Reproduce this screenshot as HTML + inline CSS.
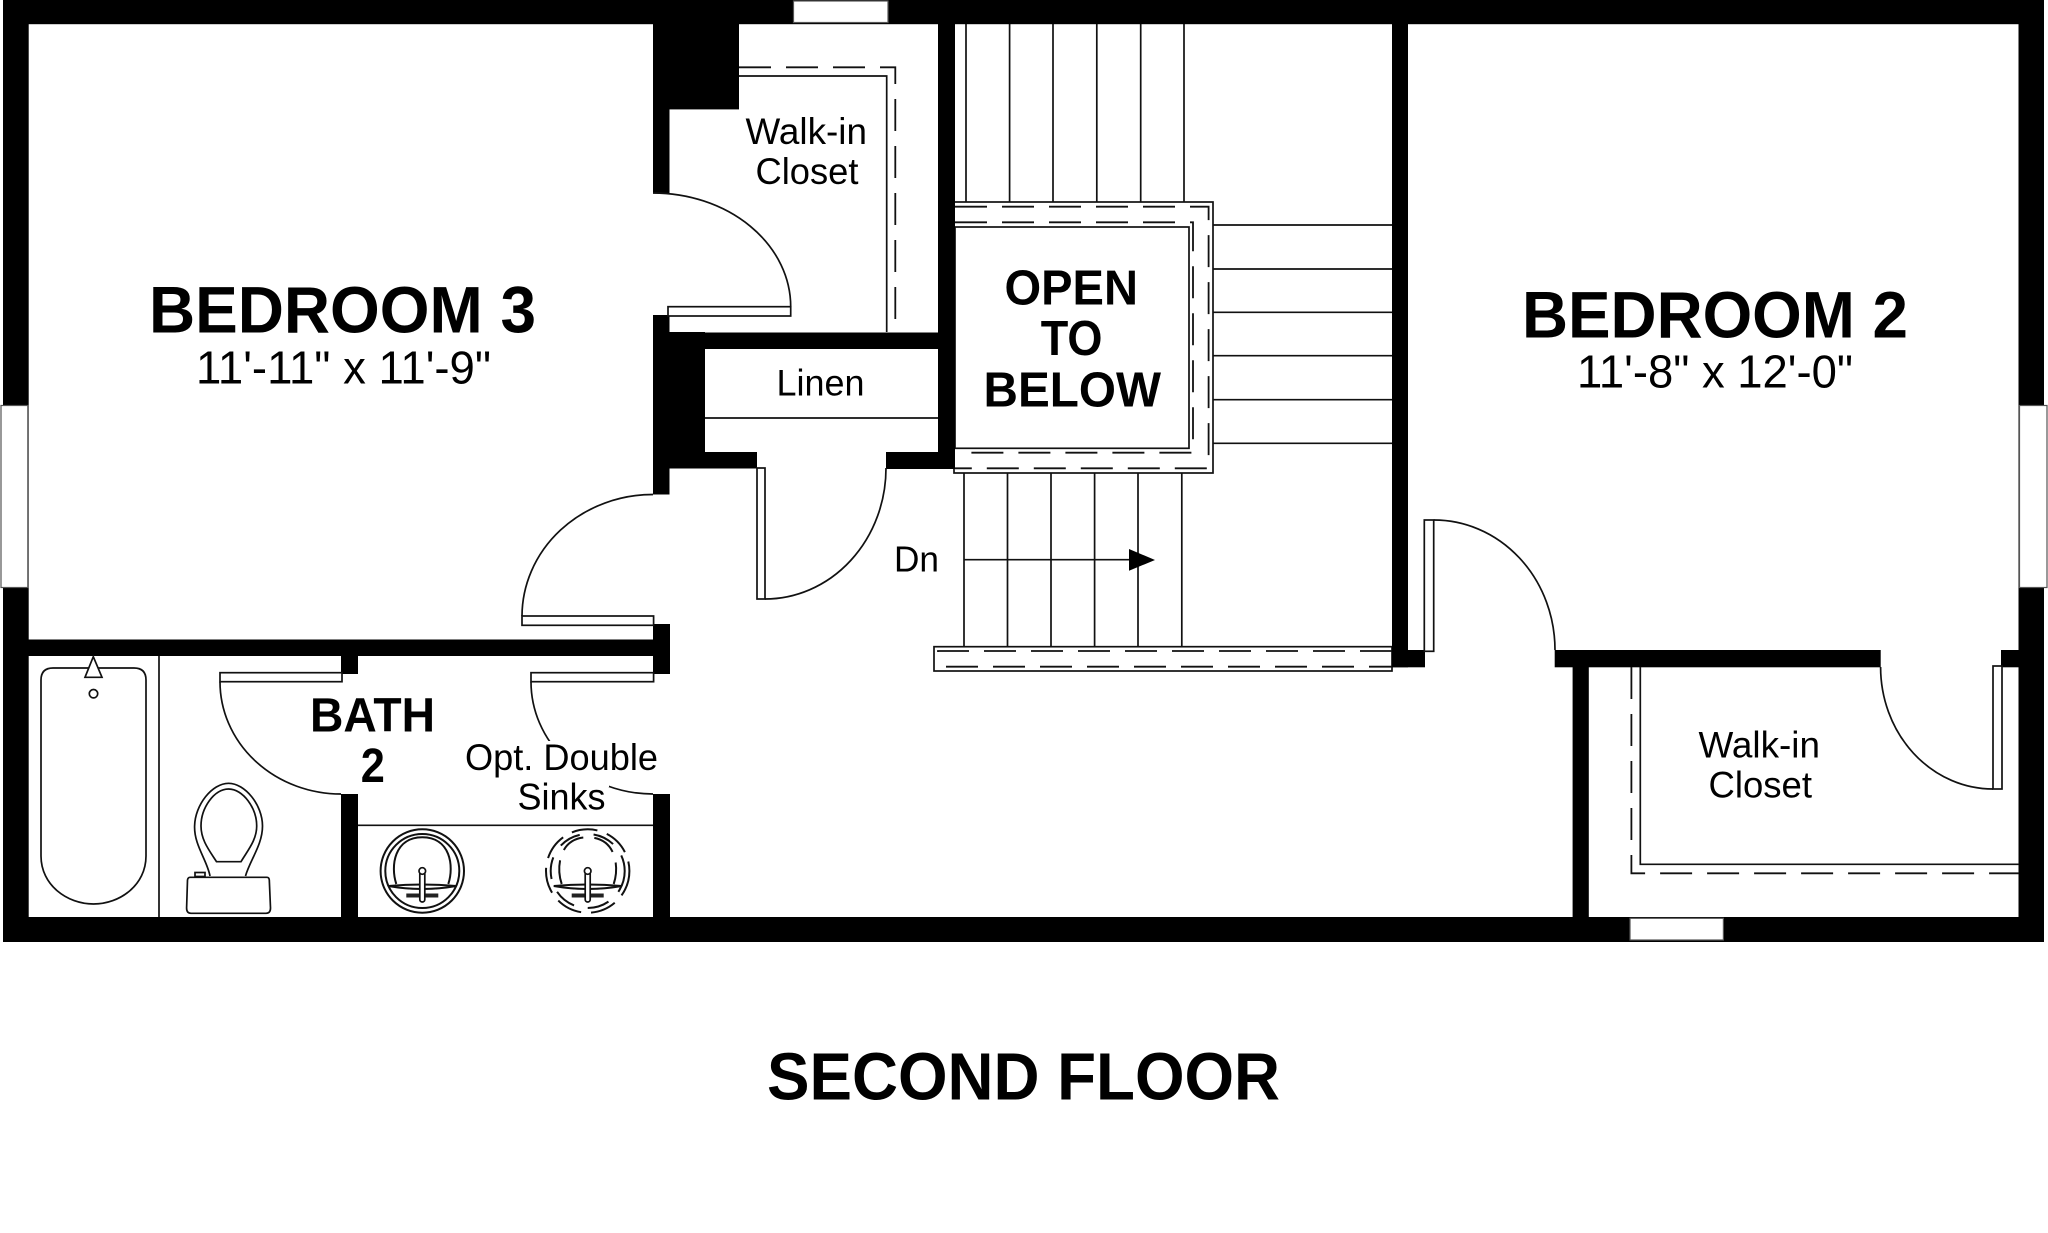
<!DOCTYPE html>
<html><head><meta charset="utf-8"><title>Second Floor</title>
<style>html,body{margin:0;padding:0;background:#fff}svg{display:block}
text{font-family:"Liberation Sans",sans-serif;fill:#000;text-anchor:start}
.b{font-weight:bold}
.l{fill:none;stroke:#111;stroke-width:1.7}
.w{fill:#fff;stroke:#111;stroke-width:1.7}
.d{fill:none;stroke:#111;stroke-width:1.8;stroke-dasharray:32 15}
.s{stroke-width:2}
</style></head><body>
<svg xmlns="http://www.w3.org/2000/svg" width="2048" height="1233" viewBox="0 0 2048 1233">
<rect width="2048" height="1233" fill="#fff"/>

<!-- stairs -->
<path class="l" d="M966,24V202M1009.6,24V202M1053,24V202M1096.8,24V202M1140.7,24V202M1184,24V202"/>
<path class="l" d="M1213,225H1392M1213,269H1392M1213,312.3H1392M1213,355.7H1392M1213,399.7H1392M1213,443.3H1392"/>
<path class="l" d="M964,473V647M1007.5,473V647M1051,473V647M1094.6,473V647M1138,473V647M1181.8,473V647"/>
<path class="l" d="M964,559.7H1130"/>
<path d="M1129,549L1155,560L1129,570.7Z" fill="#000"/>

<!-- open to below frame -->
<rect class="l" x="954" y="202" width="259" height="271"/>
<rect class="l" x="955" y="227" width="234" height="221.3"/>
<path class="d" d="M955,206.7H1208.6V468.3H955"/>
<path class="d" d="M955,222.3H1193V452.7H962"/>

<!-- landing -->
<rect class="l" x="934" y="646.7" width="458" height="24.3"/>
<path class="d" d="M1392,651H938V660"/>
<path class="d" d="M946,666.7H1392"/>

<!-- walls -->
<g fill="#000">
<rect x="3" y="0" width="2041" height="24.2"/>
<rect x="3" y="0" width="25.7" height="942"/>
<rect x="2018.5" y="0" width="25.5" height="942"/>
<rect x="3" y="917" width="2041" height="25"/>
<rect x="653" y="24" width="86" height="85.4"/>
<rect x="653" y="24" width="16.5" height="169"/>
<rect x="653" y="315" width="16.5" height="179.5"/>
<rect x="653" y="332" width="52" height="136"/>
<rect x="653" y="332.5" width="302" height="16.5"/>
<rect x="653" y="452" width="104" height="16.5"/>
<rect x="886" y="452" width="69" height="17"/>
<rect x="938" y="0" width="17" height="469"/>
<rect x="3" y="639.5" width="667" height="16.5"/>
<rect x="653" y="624" width="17" height="50"/>
<rect x="341" y="650" width="17" height="24"/>
<rect x="341" y="794" width="17" height="130"/>
<rect x="653" y="794" width="17" height="130"/>
<rect x="1392" y="0" width="16" height="667.3"/>
<rect x="1392" y="650" width="33" height="17.3"/>
<rect x="1554.7" y="650" width="326" height="17.3"/>
<rect x="1572.6" y="650" width="16.2" height="270"/>
<rect x="2001" y="650" width="20" height="17.3"/>
</g>

<!-- windows -->
<g fill="#fff" stroke="#555" stroke-width="1.2">
<rect x="1" y="405.5" width="26.8" height="182"/>
<rect x="793.5" y="1" width="94.5" height="21.5"/>
<rect x="2019.5" y="405.5" width="27.5" height="182"/>
<rect x="1630" y="918.3" width="93.4" height="21.7"/>
</g>

<!-- closet shelves -->
<path class="l" d="M739,76H886.7V332"/>
<path class="d" d="M739,67.3H895.3V332"/>
<path class="l" d="M1640.3,667V864.3H2019"/>
<path class="d" d="M1631.4,667V873.3H2019"/>
<path class="l" d="M705,418H938"/>

<!-- doors -->
<rect class="w" x="668" y="306.7" width="122.7" height="9.3"/>
<path class="l" d="M653,193A137.7,113.7 0 0 1 790.7,306.7"/>
<rect class="w" x="757" y="468" width="8" height="131"/>
<path class="l" d="M886,468A121,131 0 0 1 765,599"/>
<rect class="w" x="522" y="616" width="131.6" height="9.3"/>
<path class="l" d="M653,494.5A131,122 0 0 0 522,616"/>
<rect class="w" x="220" y="672.7" width="122" height="9"/>
<path class="l" d="M220,681.7A121,112.3 0 0 0 341,794"/>
<rect class="w" x="531" y="672.7" width="122.6" height="9"/>
<path class="l" d="M531,681.7A122,112.3 0 0 0 653,794"/>
<rect class="w" x="1424.3" y="520" width="9.4" height="131.3"/>
<path class="l" d="M1433.7,520A121,130 0 0 1 1555,650"/>
<rect class="w" x="1993" y="666" width="9" height="123"/>
<path class="l" d="M1880.6,667A112.4,122 0 0 0 1993,789"/>

<!-- bath fixtures -->
<path class="l" d="M159,656V917"/>
<path class="l" d="M358,825.3H653"/>
<path class="l" d="M41,680Q41,668 53,668H134Q146,668 146,680V856C146,885 120,904 93.5,904C67,904 41,885 41,856Z"/>
<path class="w" d="M93.3,656.7L102,677.3H85Z"/>
<ellipse class="l" cx="93.5" cy="693.7" rx="4.2" ry="4.2"/>

<!-- toilet -->
<path class="l" d="M210,876C207,860 194,845 194.6,826C195,805 212,783.3 228.6,783.3C245,783.3 262.5,805 262.5,826C262.5,845 250,860 245.5,876"/>
<path class="l" d="M216.5,861.7H241C248,850 256.7,840 256.7,826C256.7,808 243,789 228.6,789C214,789 201,808 201,826C201,840 209,850 216.5,861.7Z"/>
<path class="l" d="M190,877.3H267Q269,877.3 269.3,880L270.5,908Q270.5,913.3 266,913.3H191Q186.6,913.3 186.6,908L187.5,880Q188,877.3 190,877.3Z"/>
<rect class="l" x="195" y="872.5" width="10" height="4"/>

<!-- sink 1 -->
<g transform="translate(422.3,871)">
<circle class="l s" r="41.7"/><circle class="l s" r="37"/>
<path class="l s" d="M-26,13C-32,-5 -28,-33.7 0,-33.7C28,-33.7 32,-5 26,13"/>
<path class="l s" d="M-34,15Q0,21 34,15M-34,15Q0,12 34,15"/>
<path d="M-16,22.5H16V26.5H-16Z" fill="#222"/>
<rect class="w" x="-2.5" y="0" width="5" height="31" rx="2.5"/>
<circle class="w" r="3.3"/>
</g>

<!-- sink 2 -->
<g transform="translate(587.7,871)">
<circle class="l s" r="41.7" stroke-dasharray="26 10"/><circle class="l s" r="37" stroke-dasharray="22 14"/>
<path class="l s" stroke-dasharray="24 11" d="M-26,13C-32,-5 -28,-33.7 0,-33.7C28,-33.7 32,-5 26,13"/>
<path class="l s" d="M-34,15Q0,21 34,15M-34,15Q0,12 34,15"/>
<path d="M-16,22.5H16V26.5H-16Z" fill="#222"/>
<rect class="w" x="-2.5" y="0" width="5" height="31" rx="2.5"/>
<circle class="w" r="3.3"/>
</g>

<!-- white behind optional sinks label -->
<rect x="500" y="741" width="109" height="46" fill="#fff"/>

<!-- labels -->
<text class="b" x="149" y="332.7" font-size="66" textLength="387" lengthAdjust="spacingAndGlyphs">BEDROOM 3</text>
<text x="196" y="383.3" font-size="46" textLength="295" lengthAdjust="spacingAndGlyphs">11'-11" x 11'-9"</text>
<text class="b" x="1522" y="337.7" font-size="66" textLength="386" lengthAdjust="spacingAndGlyphs">BEDROOM 2</text>
<text x="1577" y="387.7" font-size="46" textLength="276" lengthAdjust="spacingAndGlyphs">11'-8" x 12'-0"</text>
<text class="b" x="1004.5" y="304.7" font-size="49" textLength="133.5" lengthAdjust="spacingAndGlyphs">OPEN</text>
<text class="b" x="1040.7" y="355" font-size="49" textLength="61.8" lengthAdjust="spacingAndGlyphs">TO</text>
<text class="b" x="983.5" y="406.7" font-size="49" textLength="177.5" lengthAdjust="spacingAndGlyphs">BELOW</text>
<text x="745.5" y="144" font-size="37" textLength="121.5" lengthAdjust="spacingAndGlyphs">Walk-in</text>
<text x="755.5" y="184" font-size="37" textLength="103" lengthAdjust="spacingAndGlyphs">Closet</text>
<text x="776.5" y="395.6" font-size="37" textLength="88" lengthAdjust="spacingAndGlyphs">Linen</text>
<text x="894" y="571.7" font-size="36" textLength="45" lengthAdjust="spacingAndGlyphs">Dn</text>
<text class="b" x="310" y="731.7" font-size="48" textLength="125" lengthAdjust="spacingAndGlyphs">BATH</text>
<text class="b" x="360.7" y="782" font-size="48" textLength="24.1" lengthAdjust="spacingAndGlyphs">2</text>
<text x="465" y="770" font-size="37" textLength="193" lengthAdjust="spacingAndGlyphs">Opt. Double</text>
<text x="517.5" y="809.3" font-size="37" textLength="88" lengthAdjust="spacingAndGlyphs">Sinks</text>
<text x="1698.5" y="757.3" font-size="37" textLength="121.5" lengthAdjust="spacingAndGlyphs">Walk-in</text>
<text x="1708.5" y="797.3" font-size="37" textLength="103.5" lengthAdjust="spacingAndGlyphs">Closet</text>
<text class="b" x="767" y="1099.3" font-size="67" textLength="513" lengthAdjust="spacingAndGlyphs">SECOND FLOOR</text>
</svg>
</body></html>
